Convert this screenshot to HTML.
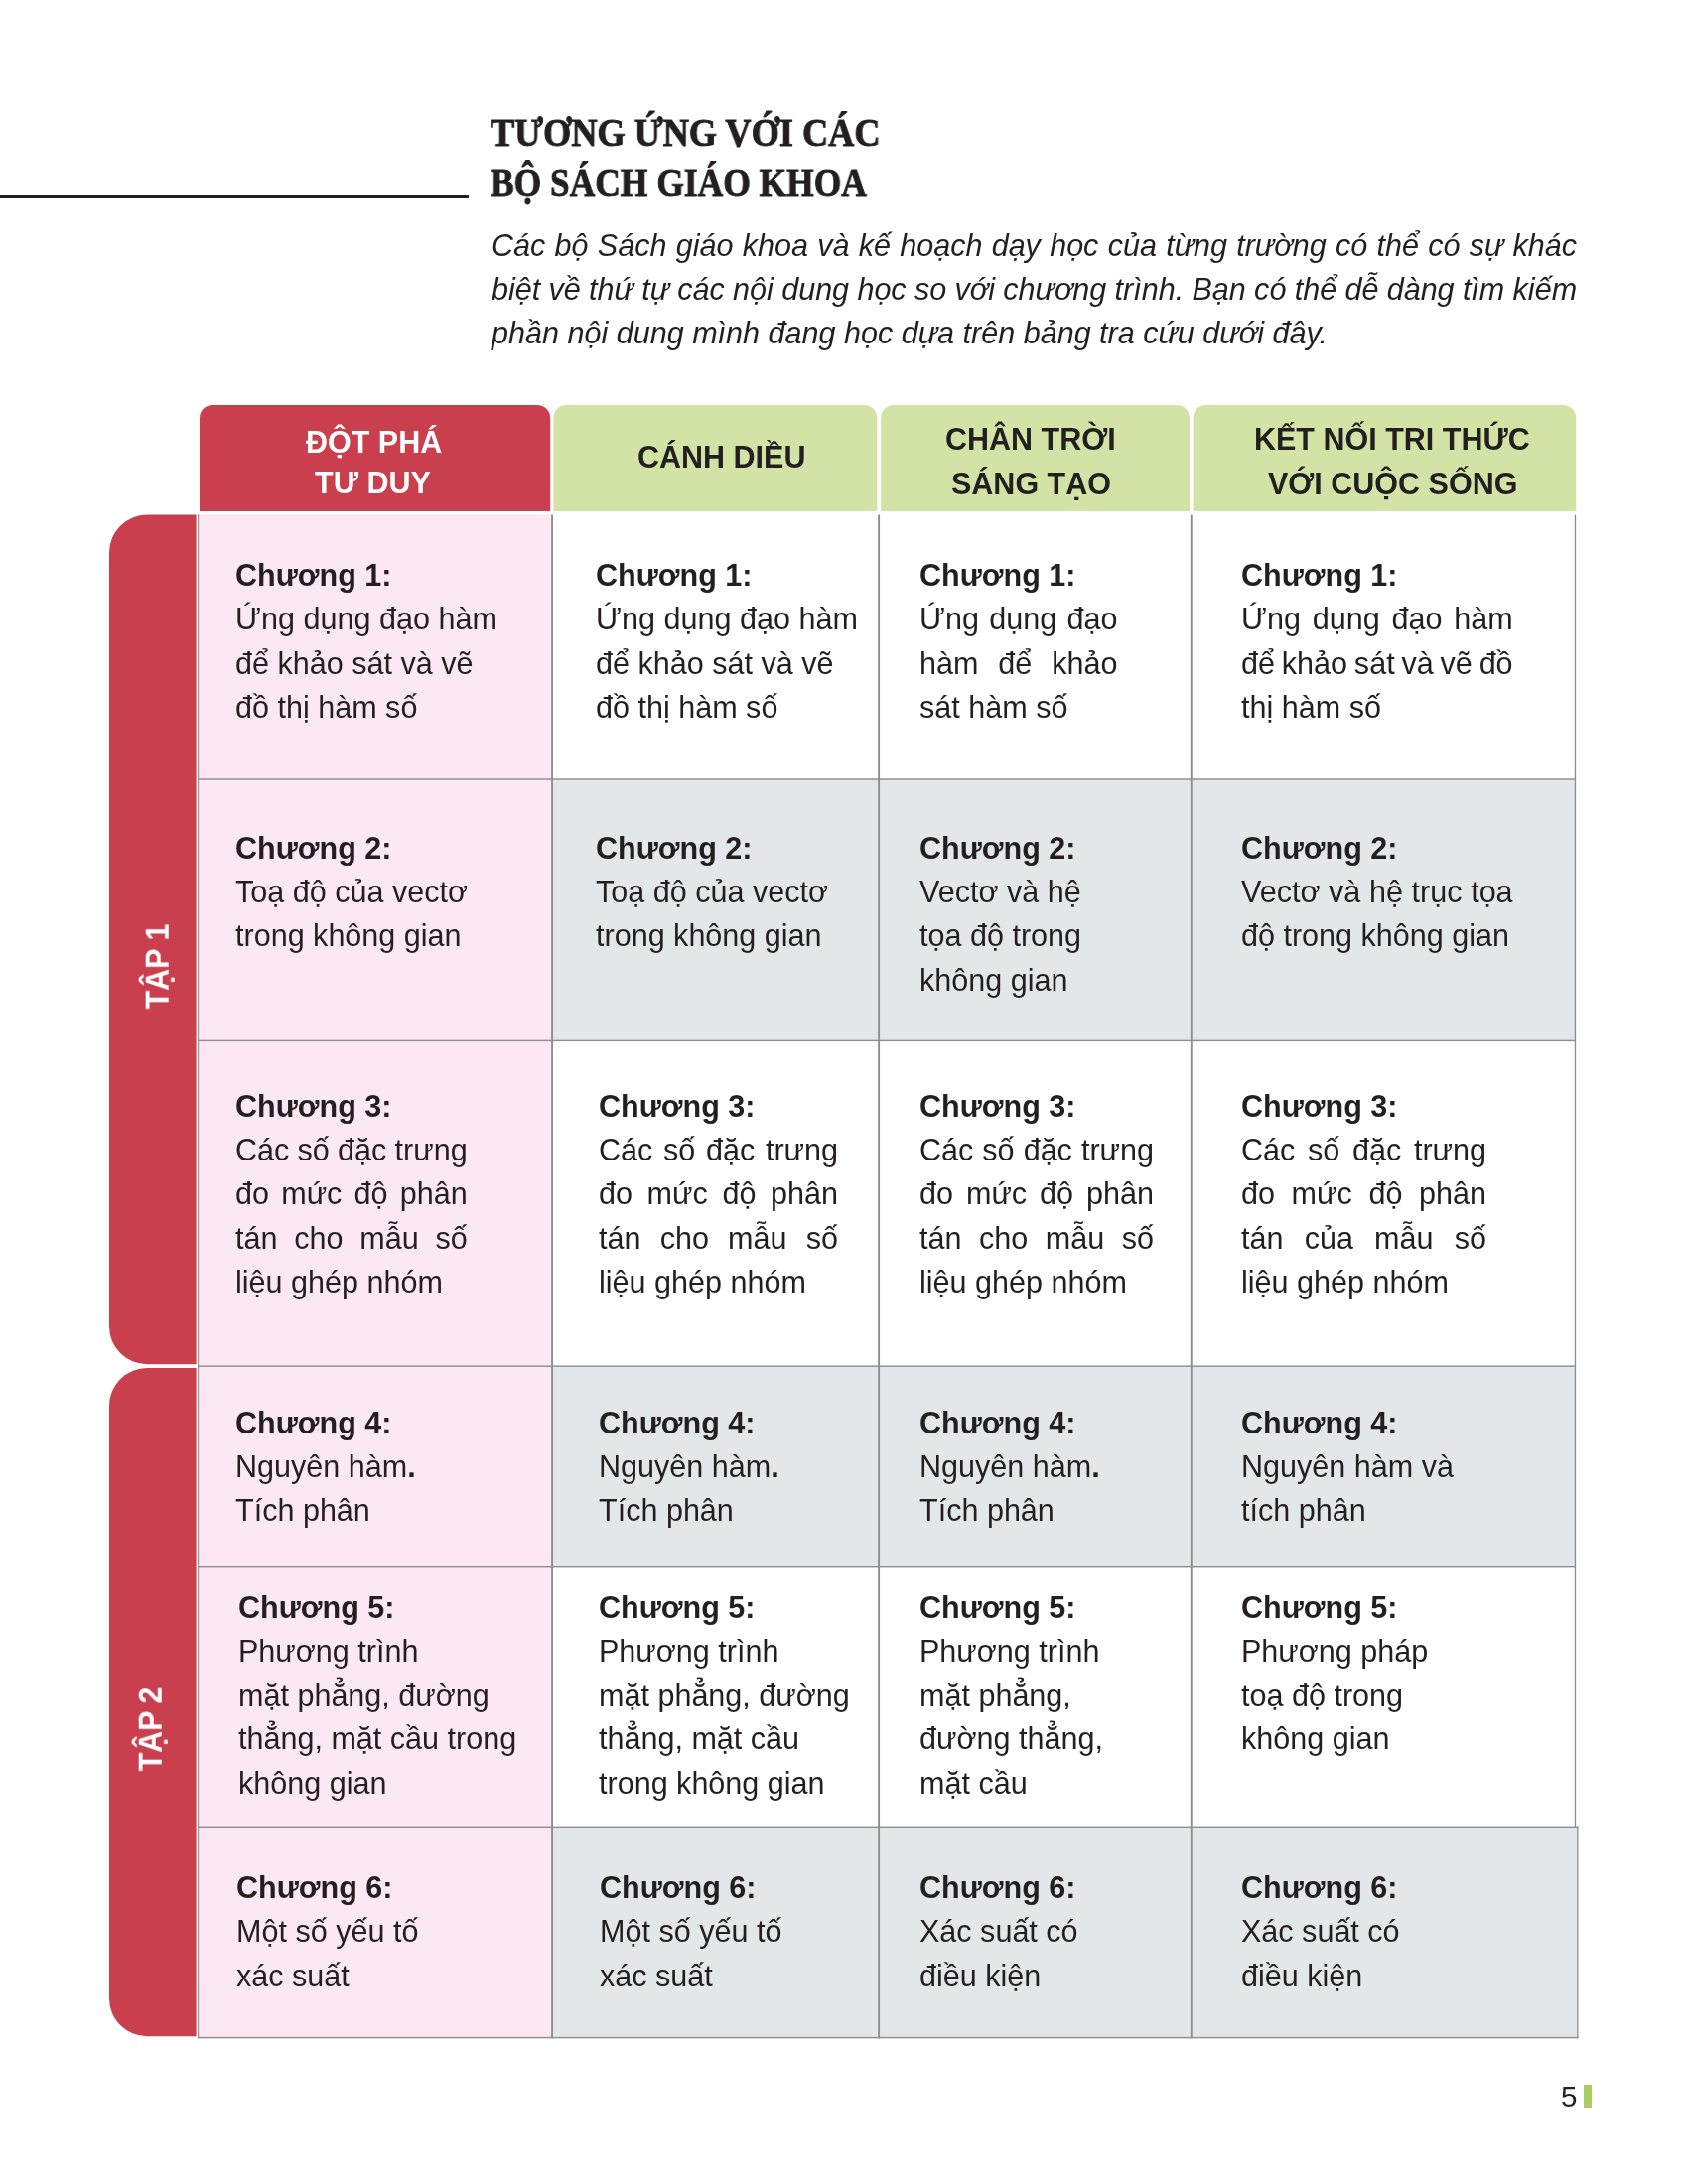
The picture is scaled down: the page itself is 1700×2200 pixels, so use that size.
<!DOCTYPE html>
<html lang="vi">
<head>
<meta charset="utf-8">
<title>Tương ứng với các bộ sách giáo khoa</title>
<style>
html,body{margin:0;padding:0;background:#fff}
body{width:1700px;height:2200px;position:relative;overflow:hidden;font-family:"Liberation Sans", sans-serif;color:#231f20}
.b{position:absolute}
.t{position:absolute;will-change:transform;white-space:pre;line-height:50px;height:50px;margin:0;font-size:30.55px}
.bd{font-weight:bold}
.it{font-style:italic;font-size:30.55px}
.hd{font-family:"Liberation Serif", serif;font-weight:bold;font-size:39px;transform-origin:0 50%;-webkit-text-stroke:0.9px #231f20}
.hb{font-weight:bold;font-size:30.5px}
.w{color:#fff}
.red{background:#c93f4e}.pink{background:#fce8f2}.grey{background:#e4e7ea}.green{background:#d2e3a5}.ln{background:#8d8e93}
.vt{position:absolute;will-change:transform;white-space:pre;font-weight:bold;color:#fff;line-height:50px;height:50px}
</style>
</head>
<body>
<svg class="b" style="left:0;top:0" width="1700" height="2200" viewBox="0 0 1700 2200">
<rect x="0" y="196" width="472" height="3" fill="#231f20"/>
<!-- header row -->
<path d="M201 515V421a13 13 0 0 1 13 -13H541.2a13 13 0 0 1 13 13V515Z" fill="#c93f4e"/>
<path d="M557.4 515V421a13 13 0 0 1 13 -13H870.3a13 13 0 0 1 13 13V515Z" fill="#d2e3a5"/>
<path d="M887.1 515V421a13 13 0 0 1 13 -13H1185a13 13 0 0 1 13 13V515Z" fill="#d2e3a5"/>
<path d="M1201.6 515V421a13 13 0 0 1 13 -13H1574.2a13 13 0 0 1 13 13V515Z" fill="#d2e3a5"/>
<!-- volume tabs -->
<path d="M197.6 518.5V1374.2H148a38 38 0 0 1 -38 -38V556.5a38 38 0 0 1 38 -38Z" fill="#c93f4e"/>
<path d="M197.6 1378V2051.2H148a38 38 0 0 1 -38 -38V1416a38 38 0 0 1 38 -38Z" fill="#c93f4e"/>
<!-- table body -->
<rect x="200.2" y="518.3" width="355.85" height="266.7" fill="#fce8f2"/>
<rect x="200.2" y="785" width="355.85" height="263.4" fill="#fce8f2"/>
<rect x="556.05" y="785" width="329.05" height="263.4" fill="#e4e7ea"/>
<rect x="885.1" y="785" width="314.7" height="263.4" fill="#e4e7ea"/>
<rect x="1199.8" y="785" width="386.65" height="263.4" fill="#e4e7ea"/>
<rect x="200.2" y="1048.4" width="355.85" height="327.8" fill="#fce8f2"/>
<rect x="200.2" y="1376.2" width="355.85" height="201.5" fill="#fce8f2"/>
<rect x="556.05" y="1376.2" width="329.05" height="201.5" fill="#e4e7ea"/>
<rect x="885.1" y="1376.2" width="314.7" height="201.5" fill="#e4e7ea"/>
<rect x="1199.8" y="1376.2" width="386.65" height="201.5" fill="#e4e7ea"/>
<rect x="200.2" y="1577.7" width="355.85" height="262.6" fill="#fce8f2"/>
<rect x="200.2" y="1840.3" width="355.85" height="212.3" fill="#fce8f2"/>
<rect x="556.05" y="1840.3" width="329.05" height="212.3" fill="#e4e7ea"/>
<rect x="885.1" y="1840.3" width="314.7" height="212.3" fill="#e4e7ea"/>
<rect x="1199.8" y="1840.3" width="389" height="212.3" fill="#e4e7ea"/>
<!-- grid lines -->
<rect x="199.1" y="784.28" width="1388" height="1.44" fill="#8d8e93"/>
<rect x="199.1" y="1047.68" width="1388" height="1.44" fill="#8d8e93"/>
<rect x="199.1" y="1375.48" width="1388" height="1.44" fill="#8d8e93"/>
<rect x="199.1" y="1576.98" width="1388" height="1.44" fill="#8d8e93"/>
<rect x="199.1" y="1839.58" width="1390.4" height="1.44" fill="#8d8e93"/>
<rect x="199.1" y="2051.88" width="1390.4" height="1.44" fill="#8d8e93"/>
<rect x="199.1" y="518" width="1.1" height="1535.3" fill="#8d8e93"/>
<rect x="555.1" y="518.5" width="1.9" height="1534.8" fill="#8d8e93"/>
<rect x="884.15" y="518.5" width="1.9" height="1534.8" fill="#8d8e93"/>
<rect x="1198.85" y="518.5" width="1.9" height="1534.8" fill="#8d8e93"/>
<rect x="1585.8" y="518.5" width="1.3" height="1321.8" fill="#8d8e93"/>
<rect x="1588.2" y="1839.6" width="1.3" height="213.7" fill="#8d8e93"/>
<!-- page marker -->
<rect x="1595" y="2100" width="8" height="23" fill="#a5cf63"/>
</svg>
<!-- text -->
<div class="t hd" style="left:494.2px;top:108.54px;transform:scaleX(0.9298)">TƯƠNG ỨNG VỚI CÁC</div>
<div class="t hd" style="left:494.2px;top:158.64px;transform:scaleX(0.9081)">BỘ SÁCH GIÁO KHOA</div>
<div class="t it" style="left:494.5px;top:221.61px;word-spacing:0.76px">Các bộ Sách giáo khoa và kế hoạch dạy học của từng trường có thể có sự khác</div>
<div class="t it" style="left:494.5px;top:265.81px;word-spacing:-0.21px">biệt về thứ tự các nội dung học so với chương trình. Bạn có thể dễ dàng tìm kiếm</div>
<div class="t it" style="left:494.5px;top:310.21px">phần nội dung mình đang học dựa trên bảng tra cứu dưới đây.</div>
<div class="t hb w" style="left:307.5px;top:419.53px">ĐỘT PHÁ</div>
<div class="t hb w" style="left:317px;top:461.43px">TƯ DUY</div>
<div class="t hb" style="left:641.5px;top:435.13px">CÁNH DIỀU</div>
<div class="t hb" style="left:951.8px;top:417.23px">CHÂN TRỜI</div>
<div class="t hb" style="left:957.5px;top:461.63px">SÁNG TẠO</div>
<div class="t hb" style="left:1262.9px;top:417.23px">KẾT NỐI TRI THỨC</div>
<div class="t hb" style="left:1276.5px;top:461.63px">VỚI CUỘC SỐNG</div>
<div class="t bd" style="left:236.6px;top:554.01px">Chương 1:</div>
<div class="t" style="left:236.6px;top:598.31px">Ứng dụng đạo hàm</div>
<div class="t" style="left:236.6px;top:642.61px">để khảo sát và vẽ</div>
<div class="t" style="left:236.6px;top:686.91px">đồ thị hàm số</div>
<div class="t bd" style="left:599.6px;top:554.01px">Chương 1:</div>
<div class="t" style="left:599.6px;top:598.31px">Ứng dụng đạo hàm</div>
<div class="t" style="left:599.6px;top:642.61px">để khảo sát và vẽ</div>
<div class="t" style="left:599.6px;top:686.91px">đồ thị hàm số</div>
<div class="t bd" style="left:925.5px;top:554.01px">Chương 1:</div>
<div class="t" style="left:925.5px;top:598.31px;word-spacing:1.72px">Ứng dụng đạo</div>
<div class="t" style="left:925.5px;top:642.61px;word-spacing:11.39px">hàm để khảo</div>
<div class="t" style="left:925.5px;top:686.91px">sát hàm số</div>
<div class="t bd" style="left:1249.7px;top:554.01px">Chương 1:</div>
<div class="t" style="left:1249.7px;top:598.31px;word-spacing:3.24px">Ứng dụng đạo hàm</div>
<div class="t" style="left:1249.7px;top:642.61px;word-spacing:-1.66px">để khảo sát và vẽ đồ</div>
<div class="t" style="left:1249.7px;top:686.91px">thị hàm số</div>
<div class="t bd" style="left:236.6px;top:828.81px">Chương 2:</div>
<div class="t" style="left:236.6px;top:873.11px">Toạ độ của vectơ</div>
<div class="t" style="left:236.6px;top:917.41px">trong không gian</div>
<div class="t bd" style="left:599.6px;top:828.81px">Chương 2:</div>
<div class="t" style="left:599.6px;top:873.11px">Toạ độ của vectơ</div>
<div class="t" style="left:599.6px;top:917.41px">trong không gian</div>
<div class="t bd" style="left:925.5px;top:828.81px">Chương 2:</div>
<div class="t" style="left:925.5px;top:873.11px">Vectơ và hệ</div>
<div class="t" style="left:925.5px;top:917.41px">tọa độ trong</div>
<div class="t" style="left:925.5px;top:961.71px">không gian</div>
<div class="t bd" style="left:1249.7px;top:828.81px">Chương 2:</div>
<div class="t" style="left:1249.7px;top:873.11px;word-spacing:0.14px">Vectơ và hệ trục tọa</div>
<div class="t" style="left:1249.7px;top:917.41px">độ trong không gian</div>
<div class="t bd" style="left:236.6px;top:1088.81px">Chương 3:</div>
<div class="t" style="left:236.6px;top:1133.11px;word-spacing:-0.23px">Các số đặc trưng</div>
<div class="t" style="left:236.6px;top:1177.41px;word-spacing:3.72px">đo mức độ phân</div>
<div class="t" style="left:236.6px;top:1221.71px;word-spacing:8.27px">tán cho mẫu số</div>
<div class="t" style="left:236.6px;top:1266.01px">liệu ghép nhóm</div>
<div class="t bd" style="left:602.5px;top:1088.81px">Chương 3:</div>
<div class="t" style="left:602.5px;top:1133.11px;word-spacing:2.20px">Các số đặc trưng</div>
<div class="t" style="left:602.5px;top:1177.41px;word-spacing:6.15px">đo mức độ phân</div>
<div class="t" style="left:602.5px;top:1221.71px;word-spacing:10.71px">tán cho mẫu số</div>
<div class="t" style="left:602.5px;top:1266.01px">liệu ghép nhóm</div>
<div class="t bd" style="left:925.5px;top:1088.81px">Chương 3:</div>
<div class="t" style="left:925.5px;top:1133.11px;word-spacing:0.54px">Các số đặc trưng</div>
<div class="t" style="left:925.5px;top:1177.41px;word-spacing:4.48px">đo mức độ phân</div>
<div class="t" style="left:925.5px;top:1221.71px;word-spacing:9.04px">tán cho mẫu số</div>
<div class="t" style="left:925.5px;top:1266.01px">liệu ghép nhóm</div>
<div class="t bd" style="left:1249.7px;top:1088.81px">Chương 3:</div>
<div class="t" style="left:1249.7px;top:1133.11px;word-spacing:4.20px">Các số đặc trưng</div>
<div class="t" style="left:1249.7px;top:1177.41px;word-spacing:8.15px">đo mức độ phân</div>
<div class="t" style="left:1249.7px;top:1221.71px;word-spacing:12.71px">tán của mẫu số</div>
<div class="t" style="left:1249.7px;top:1266.01px">liệu ghép nhóm</div>
<div class="t bd" style="left:236.6px;top:1407.51px">Chương 4:</div>
<div class="t" style="left:236.6px;top:1451.81px">Nguyên hàm<b>.</b></div>
<div class="t" style="left:236.6px;top:1496.11px">Tích phân</div>
<div class="t bd" style="left:602.5px;top:1407.51px">Chương 4:</div>
<div class="t" style="left:602.5px;top:1451.81px">Nguyên hàm<b>.</b></div>
<div class="t" style="left:602.5px;top:1496.11px">Tích phân</div>
<div class="t bd" style="left:925.5px;top:1407.51px">Chương 4:</div>
<div class="t" style="left:925.5px;top:1451.81px">Nguyên hàm<b>.</b></div>
<div class="t" style="left:925.5px;top:1496.11px">Tích phân</div>
<div class="t bd" style="left:1249.7px;top:1407.51px">Chương 4:</div>
<div class="t" style="left:1249.7px;top:1451.81px">Nguyên hàm và</div>
<div class="t" style="left:1249.7px;top:1496.11px">tích phân</div>
<div class="t bd" style="left:239.5px;top:1593.51px">Chương 5:</div>
<div class="t" style="left:239.5px;top:1637.81px">Phương trình</div>
<div class="t" style="left:239.5px;top:1682.11px">mặt phẳng, đường</div>
<div class="t" style="left:239.5px;top:1726.41px">thẳng, mặt cầu trong</div>
<div class="t" style="left:239.5px;top:1770.71px">không gian</div>
<div class="t bd" style="left:602.5px;top:1593.51px">Chương 5:</div>
<div class="t" style="left:602.5px;top:1637.81px">Phương trình</div>
<div class="t" style="left:602.5px;top:1682.11px">mặt phẳng, đường</div>
<div class="t" style="left:602.5px;top:1726.41px">thẳng, mặt cầu</div>
<div class="t" style="left:602.5px;top:1770.71px">trong không gian</div>
<div class="t bd" style="left:925.5px;top:1593.51px">Chương 5:</div>
<div class="t" style="left:925.5px;top:1637.81px">Phương trình</div>
<div class="t" style="left:925.5px;top:1682.11px">mặt phẳng,</div>
<div class="t" style="left:925.5px;top:1726.41px">đường thẳng,</div>
<div class="t" style="left:925.5px;top:1770.71px">mặt cầu</div>
<div class="t bd" style="left:1249.7px;top:1593.51px">Chương 5:</div>
<div class="t" style="left:1249.7px;top:1637.81px">Phương pháp</div>
<div class="t" style="left:1249.7px;top:1682.11px">toạ độ trong</div>
<div class="t" style="left:1249.7px;top:1726.41px">không gian</div>
<div class="t bd" style="left:237.5px;top:1875.91px">Chương 6:</div>
<div class="t" style="left:237.5px;top:1920.21px">Một số yếu tố</div>
<div class="t" style="left:237.5px;top:1964.51px">xác suất</div>
<div class="t bd" style="left:603.7px;top:1875.91px">Chương 6:</div>
<div class="t" style="left:603.7px;top:1920.21px">Một số yếu tố</div>
<div class="t" style="left:603.7px;top:1964.51px">xác suất</div>
<div class="t bd" style="left:925.5px;top:1875.91px">Chương 6:</div>
<div class="t" style="left:925.5px;top:1920.21px">Xác suất có</div>
<div class="t" style="left:925.5px;top:1964.51px">điều kiện</div>
<div class="t bd" style="left:1249.7px;top:1875.91px">Chương 6:</div>
<div class="t" style="left:1249.7px;top:1920.21px">Xác suất có</div>
<div class="t" style="left:1249.7px;top:1964.51px">điều kiện</div>
<div class="t" style="left:1572px;top:2087.07px;font-size:29.5px">5</div>
<div class="vt" style="left:169.9px;top:979.53px;font-size:32.5px;transform-origin:0 36.27px;transform:rotate(-90deg) scaleX(0.935)">TẬP 1</div>
<div class="vt" style="left:162.9px;top:1747.63px;font-size:32.5px;transform-origin:0 36.27px;transform:rotate(-90deg) scaleX(0.935)">TẬP 2</div>
</body>
</html>
